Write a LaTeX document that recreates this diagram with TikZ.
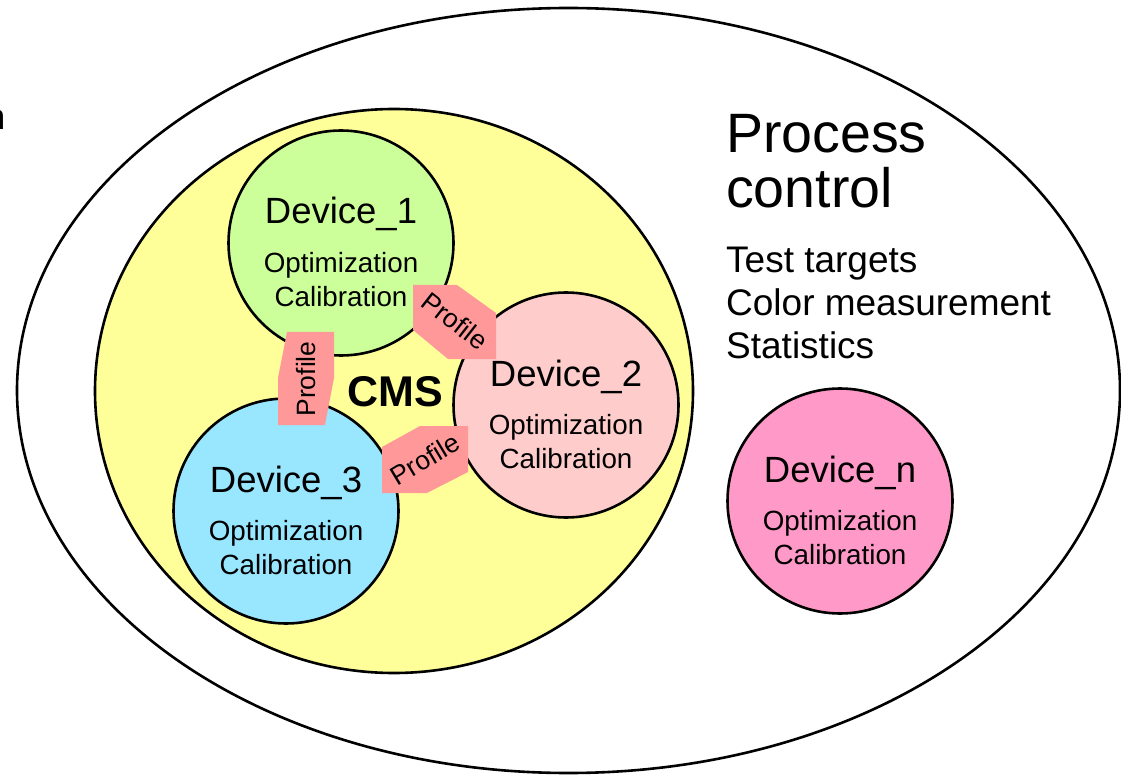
\documentclass[tikz,border=0pt]{standalone}
\usepackage{fontspec}
\setmainfont{Liberation Sans}
\usetikzlibrary{shapes.geometric}

\definecolor{cmsyellow}{HTML}{FFFF99}
\definecolor{devgreen}{HTML}{CCFF99}
\definecolor{devrose}{HTML}{FFCCCC}
\definecolor{devblue}{HTML}{99E6FF}
\definecolor{devmagenta}{HTML}{FF99C8}
\definecolor{profred}{HTML}{FF9999}

\tikzset{
  outline/.style={draw=black, line width=2.6pt},
  device/.style={outline, circle, minimum size=225pt, inner sep=0pt},
  devtitle/.style={anchor=base, inner sep=0pt, font=\fontsize{36.5}{42}\selectfont},
  devsub/.style={anchor=base, inner sep=0pt, font=\fontsize{27.8}{33}\selectfont},
  bigtext/.style={anchor=base west, inner sep=0pt, font=\fontsize{55.5}{62}\selectfont},
  listtext/.style={anchor=base west, inner sep=0pt, font=\fontsize{37}{44}\selectfont},
  badge/.style={fill=profred, draw=none},
  badgetext/.style={inner sep=0pt, font=\fontsize{26.5}{30}\selectfont},
}

\begin{document}
\begin{tikzpicture}[x=1pt, y=-1pt]
\useasboundingbox (0,0) rectangle (1121,775);

% clipped glyph at the left border
\node[anchor=base east, inner sep=0pt, font=\fontsize{36}{40}\selectfont] (stray) at (5.5,130) {n};

% process control domain and colour management system
\node[outline, ellipse, minimum width=1103pt, minimum height=765pt, inner sep=0pt] (pc) at (568.5,390.5) {};
\node[outline, ellipse, fill=cmsyellow, minimum width=598pt, minimum height=564pt, inner sep=0pt] (cms) at (394,391) {};

% devices
\node[device, fill=devgreen]   (d1) at (341,243) {};
\node[device, fill=devrose]    (d2) at (566,405) {};
\node[device, fill=devblue]    (d3) at (286,511) {};
\node[device, fill=devmagenta] (dn) at (840,501) {};

\foreach \d/\n in {d1/1, d2/2, d3/3, dn/n} {
  \node[devtitle] (\d t) at ([yshift=19pt]\d.center) {Device\_\n};
  \node[devsub]   (\d o) at ([yshift=-29.5pt]\d.center) {Optimization};
  \node[devsub]   (\d c) at ([yshift=-63.5pt]\d.center) {Calibration};
}

% profiles linking the devices
\fill[badge] (287,332) -- (334,332) -- (334,378) -- (325,425) -- (278,425) -- (278,378) -- cycle;
\node[badgetext, rotate=90] (p13) at (306,379) {Profile};

\fill[badge] (413,285) -- (457,285) -- (496,313) -- (496,359) -- (448,359) -- (413,330) -- cycle;
\node[badgetext, rotate=-38] (p12) at (455,321) {Profile};

\fill[badge] (420,426) -- (468,426) -- (468,472) -- (427,493) -- (382,493) -- (382,447) -- cycle;
\node[badgetext, rotate=31] (p32) at (425,459) {Profile};

% labels
\node[anchor=base, inner sep=0pt, font=\fontsize{43}{49}\selectfont\bfseries] (cmsl) at (395,406) {CMS};

\node[bigtext] (pc1) at (726,153) {Process};
\node[bigtext] (pc2) at (726,208) {control};
\node[listtext] (l1) at (726,273) {Test targets};
\node[listtext] (l2) at (726,316) {Color measurement};
\node[listtext] (l3) at (726,359) {Statistics};
\end{tikzpicture}
\end{document}
